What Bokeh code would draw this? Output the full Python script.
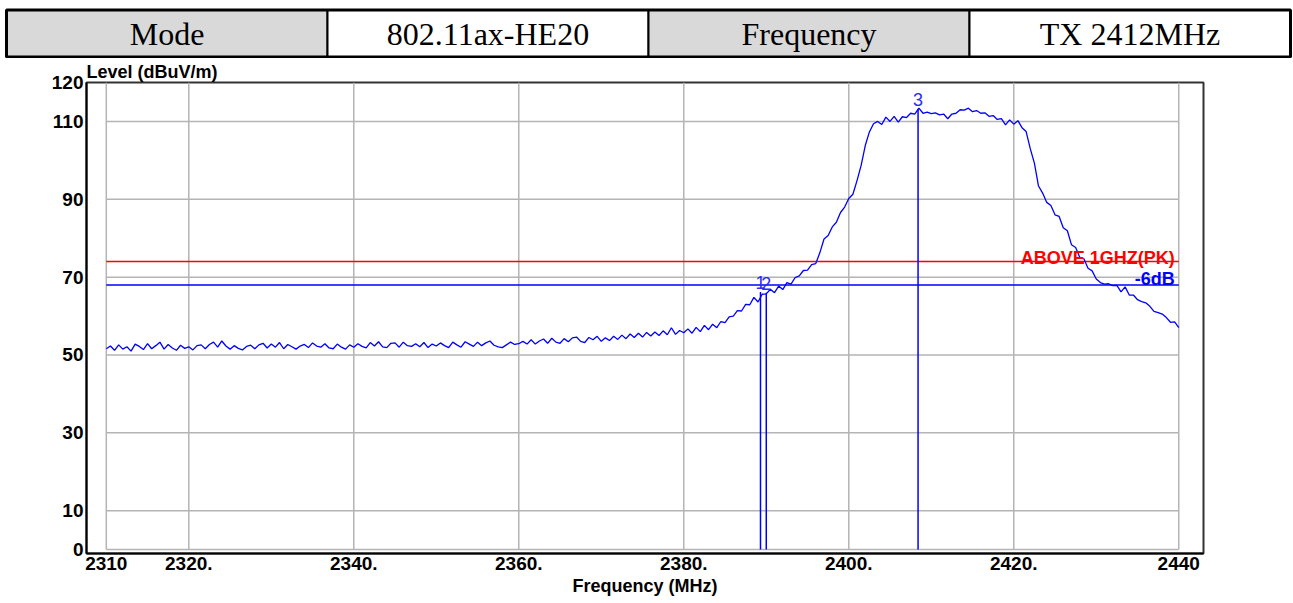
from bokeh.plotting import figure
from bokeh.models import FixedTicker, Range1d
from bokeh.embed import file_html
from bokeh.resources import INLINE
from bokeh.core.properties import value

# ---------------- data ----------------
header_labels = ["Mode", "802.11ax-HE20", "Frequency", "TX 2412MHz"]
header_fills = ["#d9d9d9", "#ffffff", "#d9d9d9", "#ffffff"]

x_ticks = [2310, 2320, 2340, 2360, 2380, 2400, 2420, 2440]
x_tick_labels = ["2310", "2320.", "2340.", "2360.", "2380.", "2400.", "2420.", "2440"]
y_ticks = [0, 10, 30, 50, 70, 90, 110, 120]
y_tick_labels = ["0", "10", "30", "50", "70", "90", "110", "120"]
y_grid = [0, 10, 30, 50, 70, 90, 110]

x_title = "Frequency (MHz)"
y_title = "Level (dBuV/m)"

sweep_start = 2310.0   # MHz
sweep_step = 0.5       # MHz
level_dbuv = [
    51.6, 52.3, 51.2, 52.6, 51.5, 52.1, 51.0, 52.8, 52.2, 51.4, 52.9, 51.6, 52.4, 53.3, 51.5, 52.7, 51.8, 51.2, 52.5, 51.7,
    52.1, 51.3, 52.4, 52.6, 51.6, 52.7, 53.3, 52.0, 53.6, 52.3, 51.5, 52.4, 51.7, 51.3, 52.2, 52.5, 51.6, 52.6, 53.0, 51.8,
    52.8, 52.0, 53.2, 51.6, 52.7, 52.1, 51.5, 52.3, 52.7, 51.9, 53.1, 52.3, 52.0, 52.9, 51.8, 51.6, 52.8, 52.0, 51.5, 52.6,
    52.0, 52.9, 52.2, 51.8, 53.2, 52.3, 53.4, 52.1, 51.9, 53.0, 53.1, 52.0, 53.3, 52.4, 52.2, 52.9, 52.1, 53.2, 51.9, 52.8,
    52.3, 53.1, 52.4, 51.9, 53.3, 52.6, 52.0, 53.4, 52.8, 52.2, 53.3, 52.4, 53.1, 53.6, 52.5, 52.1, 51.9, 52.6, 53.3, 52.7,
    52.9, 53.5, 52.8, 53.9, 52.8, 53.6, 54.1, 53.0, 54.3, 53.3, 53.0, 54.2, 53.4, 54.4, 54.6, 53.5, 53.2, 54.5, 53.9, 54.8,
    53.5, 54.4, 53.7, 54.8, 54.0, 55.1, 54.2, 55.4, 54.5, 55.6, 54.6, 55.8, 54.9, 55.9, 55.0, 56.2, 55.2, 57.0, 55.3, 56.3,
    55.7, 56.7, 55.6, 57.1, 56.0, 57.6, 56.5, 57.9, 57.0, 58.6, 58.3, 59.8, 60.0, 61.4, 61.3, 63.0, 62.9, 64.8, 63.6, 65.6,
    65.7, 66.9, 66.0, 67.7, 66.8, 68.6, 68.2, 69.9, 70.3, 71.7, 71.8, 73.2, 73.5, 76.3, 79.8, 80.7, 82.9, 84.1, 86.6, 88.0,
    90.2, 91.3, 94.8, 98.7, 103.8, 107.3, 109.4, 110.0, 109.2, 111.1, 110.0, 111.3, 109.8, 111.2, 111.0, 112.1, 111.9, 113.4, 112.1, 112.4,
    112.0, 112.2, 111.7, 111.9, 110.7, 111.9, 112.1, 113.0, 112.9, 113.4, 112.5, 112.8, 112.1, 112.2, 111.3, 111.5, 110.5, 110.7, 109.1, 110.4,
    109.3, 110.2, 108.4, 107.4, 103.0, 99.3, 93.4, 91.6, 89.2, 88.4, 86.0, 85.6, 82.7, 81.9, 78.3, 77.6, 75.1, 74.7, 72.3, 71.6,
    69.5, 68.6, 68.2, 68.3, 67.8, 67.9, 66.2, 67.5, 65.4, 65.4, 64.2, 63.7, 63.4, 62.5, 61.2, 60.9, 60.5, 59.6, 58.4, 58.5,
    57.0,
]
freq_mhz = [sweep_start + i * sweep_step for i in range(len(level_dbuv))]

limit_name = "ABOVE 1GHZ(PK)"
limit_level = 74
margin_name = "-6dB"
margin_level = 68

marker_ids = ["1", "2", "3"]
marker_freq = [2389.3, 2390.0, 2408.4]
marker_level = [66.2, 66.0, 113.2]

# ---------------- styling ----------------
BLUE = "#0000ff"
RED = "#ff0000"
GRID = "#b4b4b4"
SANS = "Liberation Sans"
W = 1293

# ---------------- header table ----------------
H_HDR = 58
hdr = figure(width=W, height=H_HDR, x_range=Range1d(0, W), y_range=Range1d(H_HDR, 0),
             toolbar_location=None, output_backend="svg", min_border=0,
             x_axis_location=None, y_axis_location=None)
hdr.grid.visible = False
hdr.outline_line_color = None
n = len(header_labels)
tbl_l, tbl_r, tbl_t, tbl_b = 6.0, 1290.0, 9.5, 56.5
cw = (tbl_r - tbl_l) / n
lefts = [tbl_l + i * cw for i in range(n)]
rights = [tbl_l + (i + 1) * cw for i in range(n)]
centers = [tbl_l + (i + 0.5) * cw for i in range(n)]
hdr.quad(left=lefts, right=rights, bottom=tbl_b, top=tbl_t, fill_color=header_fills,
         line_color="black", line_width=2)
hdr.quad(left=tbl_l, right=tbl_r, bottom=tbl_b, top=tbl_t, fill_color=None,
         line_color="black", line_width=3)
hdr.text(x=centers, y=(tbl_b + tbl_t) / 2, text=header_labels, text_align="center",
         text_baseline="middle", text_font=value("Liberation Serif"),
         text_font_size="32px", text_color="black")

# ---------------- chart ----------------
p = figure(width=W, height=545, x_range=Range1d(2307.6, 2443.0), y_range=Range1d(-1, 120),
           toolbar_location=None, output_backend="svg",
           min_border_left=86, min_border_right=90, min_border_top=24, min_border_bottom=50)
p.grid.visible = False
p.outline_line_color = "#333333"
p.outline_line_width = 2
p.background_fill_color = "white"

p.title.text = y_title
p.title.align = "left"
p.title.standoff = 2
p.title.text_font = SANS
p.title.text_font_style = "bold"
p.title.text_font_size = "18px"
p.title.text_color = "black"

for ax in (p.xaxis[0], p.yaxis[0]):
    ax.axis_line_color = "black"
    ax.axis_line_width = 2
    ax.major_tick_line_color = None
    ax.minor_tick_line_color = None
    ax.major_tick_out = 0
    ax.major_tick_in = 0
    ax.major_label_text_font = SANS
    ax.major_label_text_font_style = "bold"
    ax.major_label_text_font_size = "19px"
    ax.major_label_text_color = "black"
    ax.major_label_standoff = 3

p.xaxis.axis_label = x_title
p.xaxis.axis_label_standoff = 3
p.xaxis.axis_label_text_font = SANS
p.xaxis.axis_label_text_font_style = "bold"
p.xaxis.axis_label_text_font_size = "18px"
p.xaxis.axis_label_text_color = "black"

p.xaxis.ticker = FixedTicker(ticks=x_ticks)
p.xaxis.major_label_overrides = {t: s for t, s in zip(x_ticks, x_tick_labels)}
p.yaxis.ticker = FixedTicker(ticks=y_ticks)
p.yaxis.major_label_overrides = {t: s for t, s in zip(y_ticks, y_tick_labels)}

# grid
p.segment(x0=x_ticks, y0=[y_grid[0]] * len(x_ticks), x1=x_ticks, y1=[y_ticks[-1]] * len(x_ticks),
          line_color=GRID, line_width=1.5)
p.segment(x0=[x_ticks[0]] * len(y_grid), y0=y_grid, x1=[x_ticks[-1]] * len(y_grid), y1=y_grid,
          line_color=GRID, line_width=1.5)

# limit lines
p.line([x_ticks[0], x_ticks[-1]], [limit_level, limit_level], line_color=RED, line_width=1.5)
p.line([x_ticks[0], x_ticks[-1]], [margin_level, margin_level], line_color=BLUE, line_width=1.5)

# trace
p.line(freq_mhz, level_dbuv, line_color=BLUE, line_width=1.3)

# markers
p.segment(x0=marker_freq, y0=[y_grid[0]] * len(marker_freq), x1=marker_freq, y1=marker_level,
          line_color=BLUE, line_width=1.5)
p.text(x=marker_freq, y=marker_level, text=marker_ids, text_align="center",
       text_baseline="alphabetic", y_offset=-9, text_font=value(SANS),
       text_font_size="18px", text_color="#2a2aff")

# limit texts
p.text(x=[x_ticks[-1]], y=[limit_level], text=[limit_name], text_align="right",
       text_baseline="alphabetic", x_offset=-4, y_offset=-4, text_font=value(SANS),
       text_font_style="bold", text_font_size="18px", text_color=RED)
p.text(x=[x_ticks[-1]], y=[margin_level], text=[margin_name], text_align="right",
       text_baseline="alphabetic", x_offset=-4, y_offset=-6, text_font=value(SANS),
       text_font_style="bold", text_font_size="18px", text_color=BLUE)

open("out.html", "w").write(file_html([hdr, p], INLINE))
